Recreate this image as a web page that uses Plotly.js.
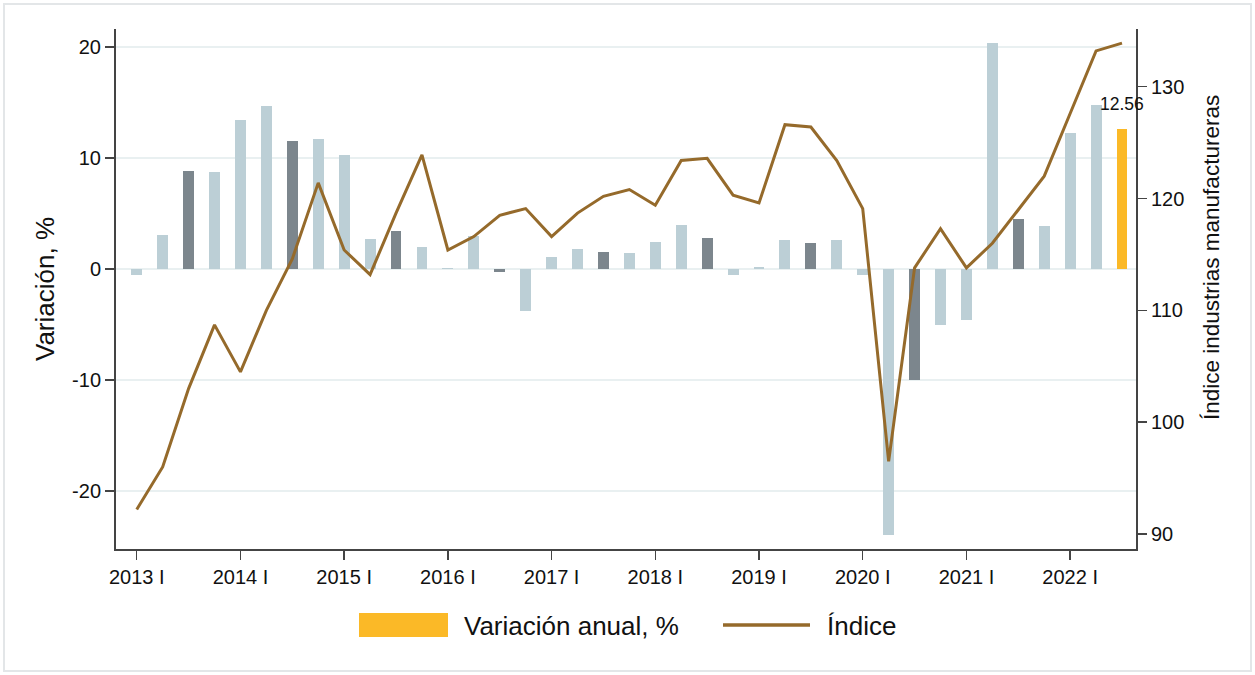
<!DOCTYPE html>
<html>
<head>
<meta charset="utf-8">
<script src="https://cdn.plot.ly/plotly-3.0.1.min.js"></script>
<style>html,body{margin:0;padding:0;background:#fff;}#chart{width:1255px;height:675px;}</style>
</head>
<body>
<div id="chart"></div>
<script>
const years = [2013,2014,2015,2016,2017,2018,2019,2020,2021,2022];
const quarterNames = ["I","II","III","IV"];
const quarters = [];
years.forEach(y => quarterNames.forEach(q => quarters.push(y + " " + q)));
const categories = quarters.slice(0, 39); // 2013 I .. 2022 III

const variacion = [
  -0.5, 3.1, 8.8, 8.7,
  13.4, 14.7, 11.5, 11.7,
  10.3, 2.7, 3.4, 2.0,
  0.1, 3.0, -0.3, -3.8,
  1.1, 1.8, 1.5, 1.4,
  2.4, 4.0, 2.8, -0.5,
  0.15, 2.6, 2.3, 2.6,
  -0.5, -23.9, -10.0, -5.0,
  -4.6, 20.3, 4.5, 3.9,
  12.2, 14.8, 12.56
];

const indice = [
  92.2, 96.0, 103.0, 108.7,
  104.5, 110.0, 114.6, 121.4,
  115.4, 113.2, 118.7, 123.9,
  115.4, 116.6, 118.5, 119.1,
  116.6, 118.7, 120.2, 120.8,
  119.4, 123.4, 123.6, 120.3,
  119.6, 126.6, 126.4, 123.4,
  119.1, 96.5, 113.8, 117.3,
  113.8, 116.0, 119.0, 122.0,
  127.6, 133.2, 133.9
];

const tickLabels = years.map(y => y + " I");
const leftTicks = [-20, -10, 0, 10, 20];
const leftTickText = ["-20", "-10", "0", "10", "20"];
const rightTicks = [90, 100, 110, 120, 130];

const lightBar = "#bccfd6", darkBar = "#7c868d", highlight = "#fbb927", lineColor = "#956a2b";
const barColors = categories.map((c, i) => {
  if (i === categories.length - 1) return highlight;
  return c.endsWith(" III") ? darkBar : lightBar;
});

const font = "Liberation Sans, Arial, Helvetica, sans-serif";
const txt = "#111111";

const traces = [
  {
    type: "bar", x: categories, y: variacion, name: "Variación anual, %",
    marker: {color: barColors}, width: 0.42, showlegend: false, hoverinfo: "x+y"
  },
  {
    type: "scatter", mode: "lines", x: categories, y: indice, name: "Índice",
    yaxis: "y2", line: {color: lineColor, width: 3}, showlegend: false
  }
];

const pxX = p => (p - 116) / 1020;
const pxY = p => (549 - p) / 520;

const layout = {
  width: 1255, height: 675,
  margin: {l: 116, r: 119, t: 29, b: 126},
  paper_bgcolor: "#ffffff", plot_bgcolor: "#ffffff",
  font: {family: font, size: 20, color: txt},
  showlegend: false,
  bargap: 0,
  xaxis: {
    type: "category", categoryorder: "array", categoryarray: categories,
    range: [-0.8, 38.54],
    tickvals: tickLabels, ticktext: tickLabels,
    ticks: "outside", ticklen: 9, tickwidth: 1.5, tickcolor: "#444",
    showline: true, linecolor: "#444", linewidth: 2,
    showgrid: false, zeroline: false,
    tickfont: {size: 20, family: font, color: txt}
  },
  yaxis: {
    range: [-25.2, 21.6],
    tickvals: leftTicks, ticktext: leftTickText,
    ticks: "outside", ticklen: 9, tickwidth: 1.5, tickcolor: "#444",
    showline: true, linecolor: "#444", linewidth: 2,
    showgrid: true, gridcolor: "#e9f0f1", gridwidth: 2,
    zeroline: true, zerolinecolor: "#e9f0f1", zerolinewidth: 2,
    tickfont: {size: 20, family: font, color: txt},
    title: {text: "Variación, %", font: {size: 26, family: font, color: txt}, standoff: 10}
  },
  yaxis2: {
    overlaying: "y", side: "right",
    range: [88.66, 135.16],
    tickvals: rightTicks,
    ticks: "outside", ticklen: 9, tickwidth: 1.5, tickcolor: "#444",
    showline: true, linecolor: "#444", linewidth: 2,
    showgrid: false, zeroline: false,
    tickfont: {size: 20, family: font, color: txt}
  },
  annotations: [
    {x: categories[categories.length - 1], y: variacion[variacion.length - 1], xref: "x", yref: "y",
     text: "12.56", showarrow: false, yshift: 25, xanchor: "center", yanchor: "middle",
     font: {size: 17.5, family: font, color: txt}},
    {x: pxX(1211), y: pxY(258), xref: "paper", yref: "paper", text: "Índice industrias manufactureras",
     textangle: -90, showarrow: false, xanchor: "center", yanchor: "middle",
     font: {size: 22.5, family: font, color: txt}},
    {x: pxX(462), y: pxY(626), xref: "paper", yref: "paper", text: "Variación anual, %",
     showarrow: false, xanchor: "left", yanchor: "middle", font: {size: 26, family: font, color: txt}},
    {x: pxX(825), y: pxY(626), xref: "paper", yref: "paper", text: "Índice",
     showarrow: false, xanchor: "left", yanchor: "middle", font: {size: 26, family: font, color: txt}}
  ],
  shapes: [
    {type: "rect", xref: "paper", yref: "paper", x0: pxX(359), x1: pxX(448), y0: pxY(637), y1: pxY(613),
     fillcolor: highlight, line: {width: 0}},
    {type: "line", xref: "paper", yref: "paper", x0: pxX(723), x1: pxX(810), y0: pxY(625), y1: pxY(625),
     line: {color: lineColor, width: 3.5}},
    {type: "rect", xref: "paper", yref: "paper", x0: pxX(4), x1: pxX(1251), y0: pxY(671), y1: pxY(4),
     line: {color: "#e3e6e8", width: 2}, fillcolor: "rgba(0,0,0,0)", layer: "below"}
  ]
};

Plotly.newPlot("chart", traces, layout, {displayModeBar: false, staticPlot: true});
</script>
</body>
</html>
